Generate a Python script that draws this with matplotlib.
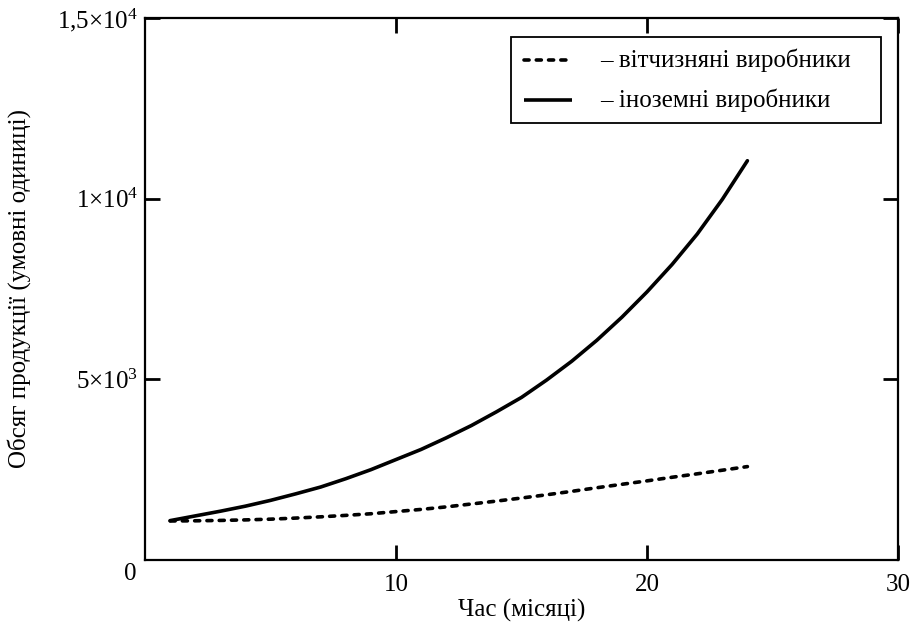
import matplotlib
matplotlib.use("Agg")
import matplotlib.pyplot as plt
from matplotlib.patches import Rectangle

plt.rcParams['font.family'] = ['Liberation Serif', 'DejaVu Serif']
plt.rcParams['mathtext.fontset'] = 'custom'
plt.rcParams['mathtext.rm'] = 'Liberation Serif'
plt.rcParams['mathtext.it'] = 'Liberation Serif:italic'
plt.rcParams['mathtext.bf'] = 'Liberation Serif:bold'

months = list(range(1, 25))
domestic = [1080, 1085, 1095, 1110, 1130, 1160, 1195, 1235, 1280, 1340, 1400, 1470,
            1550, 1630, 1715, 1805, 1900, 2000, 2095, 2190, 2290, 2385, 2485, 2585]
foreign = [1090, 1220, 1350, 1490, 1650, 1830, 2020, 2250, 2500, 2780, 3060, 3380,
           3720, 4100, 4500, 4980, 5500, 6080, 6720, 7420, 8180, 9020, 9980, 11050]

series_labels = ["– вітчизняні виробники", "– іноземні виробники"]
x_ticks = [10, 20, 30]
x_tick_labels = ["10", "20", "30"]
y_ticks = [5000, 10000, 15000]
y_tick_labels = [r"$5{\times}10^{3}$", r"$1{\times}10^{4}$", r"$1{,}5{\times}10^{4}$"]
x_label = "Час (місяці)"
y_label = "Обсяг продукції (умовні одиниці)"

FS = 18
LW = 2.6
DASH = (0, (1.4, 2.0))

fig = plt.figure(figsize=(9.12, 6.26), dpi=100)
ax = fig.add_axes([145/912, 66/626, (898-145)/912, (560-18)/626])

ax.plot(months, domestic, color='black', lw=LW, linestyle=DASH,
        dash_capstyle='round', label=series_labels[0])
ax.plot(months, foreign, color='black', lw=LW, solid_capstyle='round',
        label=series_labels[1])

ax.set_xlim(0, 30)
ax.set_ylim(0, 15000)
ax.set_xticks(x_ticks)
ax.set_xticklabels(x_tick_labels)
ax.set_yticks(y_ticks)
ax.set_yticklabels(y_tick_labels)
ax.tick_params(direction='in', length=11, width=2, labelsize=FS, colors='black',
               top=True, right=True)
ax.tick_params(axis='x', pad=10)
ax.tick_params(axis='y', pad=5)
for s in ax.spines.values():
    s.set_linewidth(1.6)
    s.set_color('black')

ax.text(-0.019, -0.026, "0", transform=ax.transAxes, ha='center', va='center', fontsize=FS)

ax.set_xlabel(x_label, fontsize=FS)
ax.xaxis.set_label_coords(0.5, -0.072)
ax.set_ylabel(y_label, fontsize=FS)
ax.yaxis.set_label_coords(-0.151, 0.5)

# legend box drawn by hand (wide right padding as in the original)
ax.add_patch(Rectangle((0.486, 0.8063), 0.977 - 0.486, 0.965 - 0.8063,
                       transform=ax.transAxes, fill=True, facecolor='white',
                       edgecolor='black', lw=1.3, zorder=5))
rows_y = [0.9225, 0.8487]
styles = [dict(linestyle=DASH, dash_capstyle='round'), dict(solid_capstyle='butt')]
for lab, yy, st in zip(series_labels, rows_y, styles):
    ax.plot([0.503, 0.567], [yy, yy], transform=ax.transAxes, color='black',
            lw=LW, zorder=6, **st)
    ax.text(0.6043, yy, lab, transform=ax.transAxes, ha='left', va='center',
            fontsize=FS, zorder=6)

fig.savefig("out.png", dpi=100)
